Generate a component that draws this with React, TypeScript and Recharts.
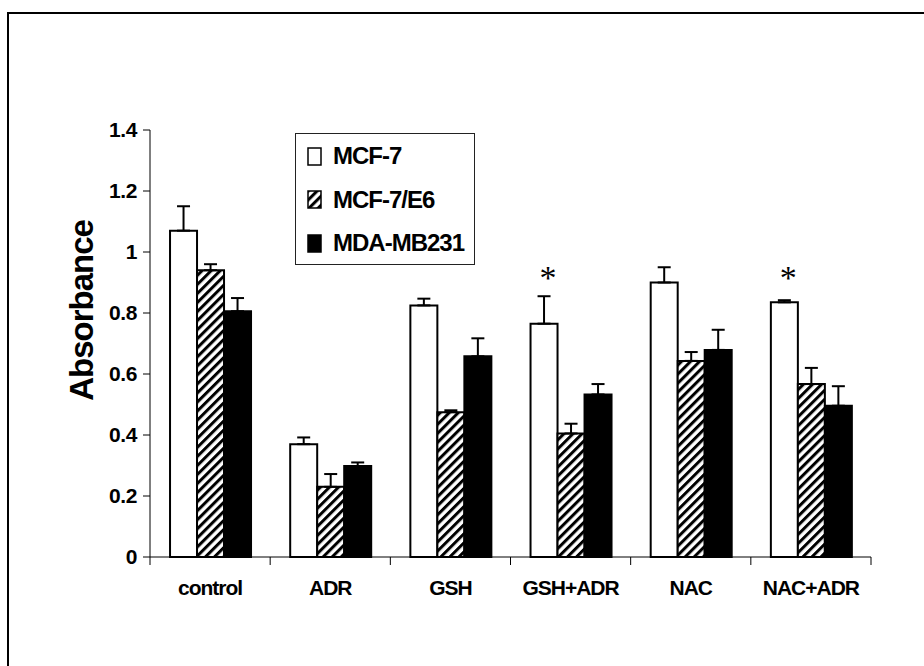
import React from 'react';
import { BarChart, Bar, XAxis, YAxis, ErrorBar, LabelList } from 'recharts';

// Treatments along the category axis
const categories = ['control', 'ADR', 'GSH', 'GSH+ADR', 'NAC', 'NAC+ADR'];

// Cell lines (series)
const seriesNames = ['MCF-7', 'MCF-7/E6', 'MDA-MB231'];

// Mean absorbance per treatment
const mcf7 = [1.07, 0.37, 0.825, 0.765, 0.9, 0.835];
const e6 = [0.94, 0.23, 0.475, 0.405, 0.643, 0.567];
const mda = [0.806, 0.298, 0.658, 0.533, 0.679, 0.496];

// Upper error (SD) per treatment
const mcf7Err = [0.08, 0.022, 0.022, 0.09, 0.05, 0.007];
const e6Err = [0.02, 0.042, 0.006, 0.032, 0.029, 0.053];
const mdaErr = [0.043, 0.012, 0.059, 0.034, 0.066, 0.064];

// Significance marks (drawn above the MCF-7 bar at this level)
const starLevel: (number | null)[] = [null, null, null, 0.93, null, 0.93];

const yTicks = [0, 0.2, 0.4, 0.6, 0.8, 1, 1.2, 1.4];

const FONT = '"Liberation Sans", Arial, Helvetica, sans-serif';
const W = 924;
const H = 666;
const MARGIN = { top: 130, right: 53, bottom: 69, left: 0 };
const Y_AXIS_W = 150;
const X_AXIS_H = 40;
const PLOT_W = W - MARGIN.left - MARGIN.right - Y_AXIS_W;

const rows = categories.map((name, i) => ({
  name,
  mcf7: mcf7[i],
  e6: e6[i],
  mda: mda[i],
  mcf7Err: [0, mcf7Err[i]],
  e6Err: [0, e6Err[i]],
  mdaErr: [0, mdaErr[i]],
  star: starLevel[i],
}));

const fmtY = (v: number) => (v === 0 ? '0' : v === 1 ? '1' : String(v));

// Category label centred in its band, with tick marks on the band edges
const XTick = (props: any) => {
  const { x, y, payload, index, visibleTicksCount, width } = props;
  const band = (typeof width === 'number' && width > 0 ? width : PLOT_W) / visibleTicksCount;
  const left = x - band / 2;
  const right = x + band / 2;
  return (
    <g>
      <line x1={left} y1={y} x2={left} y2={y + 8} stroke="#000" strokeWidth={1} />
      {index === visibleTicksCount - 1 && (
        <line x1={right} y1={y} x2={right} y2={y + 8} stroke="#000" strokeWidth={1} />
      )}
      <text
        x={x}
        y={y + 38}
        textAnchor="middle"
        fontFamily={FONT}
        fontWeight="bold"
        fontSize={21}
        letterSpacing={-1}
        fill="#000"
      >
        {payload.value}
      </text>
    </g>
  );
};

const YTitle = (props: any) => {
  const vb = props.viewBox || { x: 0, y: MARGIN.top, width: Y_AXIS_W, height: 427 };
  const cx = 93;
  const cy = vb.y + vb.height / 2 - 33;
  return (
    <text
      x={cx}
      y={cy}
      transform={`rotate(-90, ${cx}, ${cy})`}
      textAnchor="middle"
      fontFamily={FONT}
      fontWeight="bold"
      fontSize={33}
      letterSpacing={-1}
      fill="#000"
    >
      Absorbance
    </text>
  );
};

const Star = (props: any) => {
  const { x, y, width, height, value, index } = props;
  if (value === null || value === undefined) return null;
  const base = y + height;
  const perUnit = height / mcf7[index];
  const cy = base - value * perUnit;
  return (
    <text
      x={x + width / 2 + 4}
      y={cy + 16}
      textAnchor="middle"
      fontFamily='"Liberation Serif", "Times New Roman", serif'
      fontSize={34}
      fill="#000"
    >
      *
    </text>
  );
};

const Swatch = ({ kind }: { kind: number }) => (
  <svg width={15} height={19} style={{ display: 'block' }}>
    <defs>
      <pattern id="legendHatch" patternUnits="userSpaceOnUse" width={6.4} height={6.4} patternTransform="rotate(45)">
        <rect width={6.4} height={6.4} fill="#fff" />
        <rect width={3} height={6.4} fill="#000" />
      </pattern>
    </defs>
    <rect
      x={1}
      y={1}
      width={13}
      height={17}
      fill={kind === 0 ? '#fff' : kind === 1 ? 'url(#legendHatch)' : '#000'}
      stroke="#000"
      strokeWidth={1.5}
    />
  </svg>
);

export default function App() {
  return (
    <div
      style={{
        position: 'absolute',
        left: 0,
        top: 0,
        width: W,
        height: H,
        background: '#fff',
        overflow: 'hidden',
      }}
    >
      {/* chart area frame */}
      <div
        style={{
          position: 'absolute',
          left: 7,
          top: 12,
          right: -4,
          bottom: -4,
          borderTop: '2px solid #000',
          borderLeft: '2px solid #000',
        }}
      />
      <div style={{ position: 'absolute', left: 0, top: 0 }}>
        <BarChart
          width={W}
          height={H}
          data={rows}
          margin={MARGIN}
          barCategoryGap="16.67%"
          barGap={0}
        >
          <defs>
            <pattern id="hatch" patternUnits="userSpaceOnUse" width={6.4} height={6.4} patternTransform="rotate(45)">
              <rect width={6.4} height={6.4} fill="#fff" />
              <rect width={3} height={6.4} fill="#000" />
            </pattern>
          </defs>
          <XAxis
            dataKey="name"
            height={X_AXIS_H}
            axisLine={{ stroke: '#000', strokeWidth: 1 }}
            tickLine={false}
            tickSize={0}
            tickMargin={0}
            interval={0}
            tick={<XTick />}
          />
          <YAxis
            width={Y_AXIS_W}
            domain={[0, 1.4]}
            ticks={yTicks}
            interval={0}
            tickFormatter={fmtY}
            axisLine={{ stroke: '#000', strokeWidth: 1 }}
            tickLine={{ stroke: '#000', strokeWidth: 1 }}
            tickSize={7}
            tickMargin={6}
            tick={{ fill: '#000', fontFamily: FONT, fontWeight: 'bold', fontSize: 21, letterSpacing: -0.4 }}
            label={<YTitle />}
          />
          <Bar dataKey="mcf7" name={seriesNames[0]} fill="#fff" stroke="#000" strokeWidth={2} isAnimationActive={false}>
            <ErrorBar dataKey="mcf7Err" direction="y" width={6.5} stroke="#000" strokeWidth={2} />
            <LabelList dataKey="star" content={<Star />} />
          </Bar>
          <Bar dataKey="e6" name={seriesNames[1]} fill="url(#hatch)" stroke="#000" strokeWidth={2} isAnimationActive={false}>
            <ErrorBar dataKey="e6Err" direction="y" width={6.5} stroke="#000" strokeWidth={2} />
          </Bar>
          <Bar dataKey="mda" name={seriesNames[2]} fill="#000" stroke="#000" strokeWidth={2} isAnimationActive={false}>
            <ErrorBar dataKey="mdaErr" direction="y" width={6.5} stroke="#000" strokeWidth={2} />
          </Bar>
        </BarChart>
      </div>
      {/* legend box */}
      <div
        style={{
          position: 'absolute',
          left: 295,
          top: 133,
          width: 178,
          height: 130,
          border: '1px solid #222',
          background: '#fff',
          boxSizing: 'content-box',
        }}
      >
        {seriesNames.map((s, i) => (
          <div
            key={s}
            style={{
              position: 'absolute',
              left: 11,
              top: 22 + i * 43.5 - 15,
              height: 30,
              display: 'flex',
              alignItems: 'center',
            }}
          >
            <Swatch kind={i} />
            <span
              style={{
                marginLeft: 11,
                fontFamily: FONT,
                fontWeight: 'bold',
                fontSize: 24,
                letterSpacing: -1,
                lineHeight: '30px',
                color: '#000',
                whiteSpace: 'nowrap',
              }}
            >
              {s}
            </span>
          </div>
        ))}
      </div>
    </div>
  );
}
